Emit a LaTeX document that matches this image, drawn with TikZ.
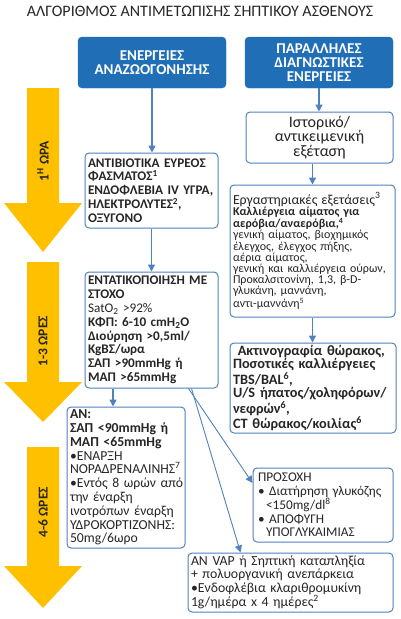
\documentclass[tikz,border=0pt]{standalone}
\usepackage{fontspec}
\setmainfont{Carlito}
\usetikzlibrary{positioning,arrows.meta}
\definecolor{sepblue}{HTML}{1F6EB6}
\definecolor{sepline}{HTML}{4F81BD}
\definecolor{sepgold}{HTML}{FFC000}
\definecolor{septext}{HTML}{262626}

\begin{document}
\begin{tikzpicture}[x=1pt, y=-1pt,
      hdr/.style={fill=sepblue, draw=sepblue, rounded corners=4pt, text=white, align=center,
                  font=\bfseries\fontsize{15}{14}\selectfont, minimum width=148pt, minimum height=51pt},
      box/.style={draw=sepline, line width=1pt, fill=white, rounded corners=4pt,
                  inner xsep=3pt, inner ysep=2pt, text=septext, font=\fontsize{13.8}{13.8}\selectfont},
      card/.style={box, align=left, execute at begin node={\rightskip=0pt plus 1fil minus 60pt}},
      bcard/.style={card, font=\bfseries\fontsize{13.2}{13.8}\selectfont},
      flow/.style={draw=sepline, line width=1.4pt, -{Triangle[length=7pt,width=7pt]}},
      thinflow/.style={flow, line width=0.9pt},
      hours/.style={rotate=90, text=septext, font=\bfseries\fontsize{13.5}{14}\selectfont}]
  \useasboundingbox (0,0) rectangle (400,619);

  % time arrows on the left
  \foreach \top/\wing/\tip in {88/203/252, 262/382/422, 447/566/608}
    \fill[sepgold] (27,\top) -- (59,\top) -- (59,\wing) -- (82,\wing) -- (43,\tip)
                   -- (4,\wing) -- (27,\wing) -- cycle;
  \node[hours] (h1) at (43,161) {1\textsuperscript{Η} ΩΡΑ};
  \node[hours] (h2) at (43,341) {1-3 ΩΡΕΣ};
  \node[hours] (h3) at (43,512) {4-6 ΩΡΕΣ};

  \node[text=septext, font=\fontsize{16}{18}\selectfont] (title) at (200,11)
    {ΑΛΓΟΡΙΘΜΟΣ ΑΝΤΙΜΕΤΩΠΙΣΗΣ ΣΗΠΤΙΚΟΥ ΑΣΘΕΝΟΥΣ};

  % headers
  \node[hdr] (resus) at (152,62.5) {ΕΝΕΡΓΕΙΕΣ\\ΑΝΑΖΩΟΓΟΝΗΣΗΣ};
  \node[hdr] (diag) at (319,62.5) {ΠΑΡΑΛΛΗΛΕΣ\\ΔΙΑΓΝΩΣΤΙΚΕΣ\\ΕΝΕΡΓΕΙΕΣ};

  % resuscitation column
  \node[bcard, text width=127pt, minimum height=75pt] (abx) at (151.5,190.5)
    {ΑΝΤΙΒΙΟΤΙΚΑ ΕΥΡΕΟΣ\\ΦΑΣΜΑΤΟΣ\textsuperscript{1}\\ΕΝΔΟΦΛΕΒΙΑ IV ΥΓΡΑ,\\
     ΗΛΕΚΤΡΟΛΥΤΕΣ\textsuperscript{2},\\ΟΞΥΓΟΝΟ};
  \node[bcard, text width=127pt, minimum height=116pt] (goal) at (151.5,330)
    {ΕΝΤΑΤΙΚΟΠΟΙΗΣΗ ΜΕ\\ΣΤΟΧΟ\\{\mdseries SatO\textsubscript{2} >92\%}\\ΚΦΠ: 6-10 cmH\textsubscript{2}O\\
     Διούρηση >0,5ml/\\ΚgΒΣ/ωρα\\ΣΑΠ >90mmHg ή\\ΜΑΠ >65mmHg};
  \node[card, text width=112pt, minimum height=141pt, font=\fontsize{13.7}{13.8}\selectfont]
    (shock) at (126,477.5)
    {\textbf{ΑΝ:}\\\textbf{ΣΑΠ <90mmHg ή}\\\textbf{ΜΑΠ <65mmHg}\\•ΕΝΑΡΞΗ\\ΝΟΡΑΔΡΕΝΑΛΙΝΗΣ\textsuperscript{7}\\
     •Εντός 8 ωρών από\\την έναρξη\\ινοτρόπων έναρξη\\ΥΔΡΟΚΟΡΤΙΖΟΝΗΣ:\\50mg/6ωρο};

  % diagnostic column
  \node[box, align=center, text width=141pt, minimum height=51pt,
        font=\fontsize{16}{14.5}\selectfont] (hist) at (319.5,137.5)
    {Ιστορικό/\\αντικειμενική\\εξέταση};
  \node[card, text width=159pt, minimum height=132pt, font=\fontsize{12}{11.2}\selectfont]
    (lab) at (312.5,251)
    {{\fontsize{13.8}{13}\selectfont Εργαστηριακές εξετάσεις\textsuperscript{3}}\\
     \textbf{Καλλιέργεια αίματος για}\\\textbf{αερόβια/αναερόβια,\textsuperscript{4}}\\
     γενική αίματος, βιοχημικός\\έλεγχος, έλεγχος πήξης,\\αέρια αίματος,\\
     γενική και καλλιέργεια ούρων,\\Προκαλσιτονίνη, 1,3, β-D-\\γλυκάνη, μαννάνη,\\
     αντι-μαννάνη\textsuperscript{5}};
  \node[bcard, text width=160pt, minimum height=90pt, font=\bfseries\fontsize{14.3}{13.6}\selectfont]
    (img) at (313,388)
    {\ Ακτινογραφία θώρακος,\\Ποσοτικές καλλιέργειες\\TBS/BAL\textsuperscript{6},\\
     U/S ήπατος/χοληφόρων/\\νεφρών\textsuperscript{6},\\CT θώρακος/κοιλίας\textsuperscript{6}};
  \node[card, inner xsep=5pt, text width=130pt, minimum height=74pt, font=\fontsize{13.3}{13.5}\selectfont]
    (care) at (323,505)
    {ΠΡΟΣΟΧΗ\\• Διατήρηση γλυκόζης\\\hspace*{8pt}<150mg/dl\textsuperscript{8}\\
     • ΑΠΟΦΥΓΗ\\\hspace*{8pt}ΥΠΟΓΛΥΚΑΙΜΙΑΣ};
  \node[card, text width=199pt, minimum height=59pt, font=\fontsize{13.8}{13.3}\selectfont]
    (vap) at (290.5,582.5)
    {ΑΝ VAP ή Σηπτική καταπληξία\\+ πολυοργανική ανεπάρκεια\\•Ενδοφλέβια κλαριθρομυκίνη\\
     1g/ημέρα x 4 ημέρες\textsuperscript{2}};

  % connectors
  \draw[flow] (resus.south) -- (resus.south |- abx.north);
  \draw[flow] (abx.south) -- (abx.south |- goal.north);
  \draw[flow] ([xshift=-13pt]shock.north |- goal.south) -- ([xshift=-13pt]shock.north);
  \draw[thinflow] ([xshift=-30pt]goal.south east) -- ([yshift=22pt]care.west);
  \draw[thinflow] ([xshift=-27pt]goal.south east) -- ([xshift=-50pt]vap.north);
  \draw[flow] (diag.south) -- (diag.south |- hist.north);
  \draw[flow] (hist.south -| lab.north) -- (lab.north);
  \draw[flow] (lab.south) -- (lab.south |- img.north);
\end{tikzpicture}
\end{document}
